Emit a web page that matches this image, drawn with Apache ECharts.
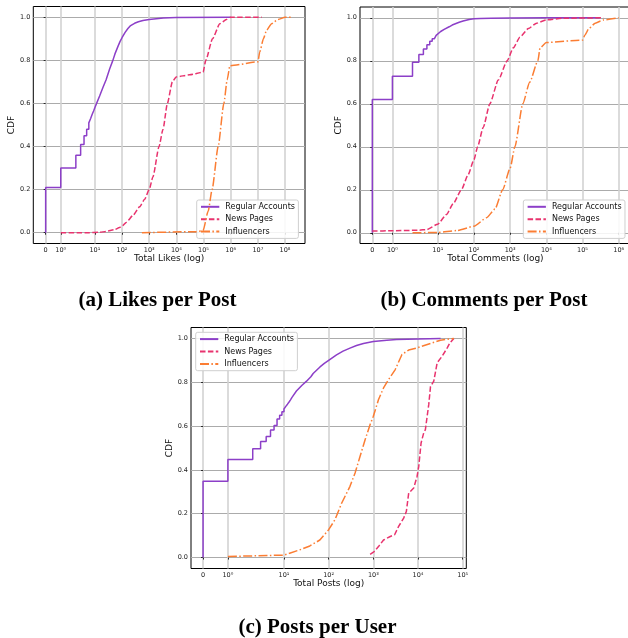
<!DOCTYPE html>
<html><head><meta charset="utf-8">
<script src="https://cdn.jsdelivr.net/npm/echarts@6/dist/echarts.min.js"></script>
<style>html,body{margin:0;padding:0;background:#fff}#c{width:628px;height:638px}</style>
</head><body><div id="c"></div>
<script>
// ---------- data ----------
const seriesNames = ['Regular Accounts', 'News Pages', 'Influencers'];

// (a) Likes per Post
const likesRegularX = [0,0,1,1,2,2,3,3,4,4,5,5,6,6,7,7,8,8,9,9,10,12,15,20,26,35,46,55,71,85,100,130,165,200,290,400,590,1000,3300,10000,1000000];
const likesRegularY = [0,0.21,0.21,0.30,0.30,0.36,0.36,0.41,0.41,0.45,0.45,0.48,0.48,0.51,0.51,0.53,0.53,0.55,0.55,0.565,0.58,0.605,0.635,0.675,0.71,0.76,0.80,0.83,0.865,0.888,0.905,0.93,0.948,0.96,0.972,0.979,0.985,0.99,0.997,0.999,1.0];
const likesNewsX = [1,6,15,26,53,81,100,143,253,444,680,1000,1380,2300,3230,4670,7140,9770,31000,96600,121000,214000,398000,700000,1000000,14000000];
const likesNewsY = [0,0,0.002,0.006,0.014,0.024,0.031,0.048,0.08,0.12,0.155,0.2,0.26,0.4,0.48,0.6,0.7,0.723,0.733,0.745,0.8,0.9,0.97,0.99,1.0,1.0];
const likesInflX = [540,54800,96600,148000,207000,346000,560000,743000,933000,10000000,11800000,16000000,21000000,32000000,56000000,100000000,190000000];
const likesInflY = [0,0.005,0.01,0.1,0.2,0.4,0.6,0.71,0.775,0.793,0.84,0.9,0.94,0.97,0.99,1.0,1.0];

// (b) Comments per Post
const commRegularX = [0,0,1,1,2,2,3,3,4,4,5,5,6,6,7,7,8,8,9,9,10,12,15,20.6,25,39,50,73.6,100,150,300,1000,10000,300000];
const commRegularY = [0,0.62,0.62,0.728,0.728,0.793,0.793,0.829,0.829,0.855,0.855,0.875,0.875,0.891,0.891,0.902,0.902,0.91,0.91,0.918,0.927,0.936,0.946,0.958,0.966,0.979,0.985,0.992,0.995,0.997,0.998,0.999,1.0,1.0];
const commNewsX = [0,1,3,5,10,17.4,26.6,45,69,100,126,180,275,470,830,1220,1870,3200,5400,10000,29500,380000];
const commNewsY = [0.008,0.009,0.012,0.015,0.04,0.085,0.135,0.2,0.27,0.34,0.4,0.49,0.6,0.71,0.8,0.86,0.91,0.95,0.975,0.99,0.998,1.0];
const commInflX = [2,10,33,100,223,380,620,1000,1350,2240,3460,5850,6700,10000,100000,117000,150000,224000,380000,1000000];
const commInflY = [0,0.001,0.01,0.03,0.07,0.11,0.2,0.3,0.4,0.6,0.7,0.8,0.86,0.885,0.896,0.92,0.95,0.975,0.99,1.0];

// (c) Posts per User
const postsRegularX = [0,0,1,1,2,2,3,3,4,4,5,5,6,6,7,7,8,8,9,9,10,10,11,11,12,12,13,13,14,14,15,19,25,32,40,45,64,80,100,150,210,300,420,600,1000,2000,3300,10000,32000];
const postsRegularY = [0,0.348,0.348,0.447,0.447,0.497,0.497,0.53,0.53,0.553,0.553,0.582,0.582,0.603,0.603,0.632,0.632,0.65,0.65,0.665,0.665,0.678,0.678,0.69,0.69,0.70,0.70,0.71,0.71,0.72,0.73,0.76,0.785,0.805,0.825,0.84,0.87,0.886,0.9,0.925,0.942,0.956,0.968,0.977,0.986,0.992,0.995,0.998,1.0];
const postsNewsX = [847,1042,1304,1690,2390,2990,3680,4770,5470,6180,8000,9510,10370,11700,13400,14600,17400,19000,22500,26800,34700,45000,51600,63500];
const postsNewsY = [0.015,0.027,0.05,0.08,0.096,0.104,0.142,0.18,0.21,0.294,0.317,0.37,0.416,0.523,0.569,0.584,0.7,0.78,0.805,0.889,0.919,0.957,0.98,1.0];
const postsInflX = [1,10,13.4,22.5,37.9,63.5,100,138,195,300,390,505,654,847,1000,1300,1690,2190,3090,4370,6180,9500,19000,31800,63500];
const postsInflY = [0.005,0.011,0.02,0.035,0.053,0.08,0.127,0.172,0.248,0.325,0.386,0.462,0.538,0.607,0.645,0.72,0.774,0.812,0.858,0.927,0.947,0.957,0.977,0.992,1.0];

// ticks
const likesTicks = [0,1,10,100,1e3,1e4,1e5,1e6,1e7,1e8];
const likesTickLabels = ['0','10\u2070','10\u00b9','10\u00b2','10\u00b3','10\u2074','10\u2075','10\u2076','10\u2077','10\u2078'];
const commTicks = [0,1,10,100,1e3,1e4,1e5,1e6];
const commTickLabels = ['0','10\u2070','10\u00b9','10\u00b2','10\u00b3','10\u2074','10\u2075','10\u2076'];
const postsTicks = [0,1,10,100,1e3,1e4,1e5];
const postsTickLabels = ['0','10\u2070','10\u00b9','10\u00b2','10\u00b3','10\u2074','10\u2075'];
const cdfTicks = [0,0.2,0.4,0.6,0.8,1.0];
const cdfTickLabels = ['0.0','0.2','0.4','0.6','0.8','1.0'];

const xTitles = ['Total Likes (log)', 'Total Comments (log)', 'Total Posts (log)'];
const captions = ['(a) Likes per Post', '(b) Comments per Post', '(c) Posts per User'];

// ---------- symlog transform (linthresh 2, linscale 1) ----------
const LT = 2, LS = 1 / (1 - 1 / 10);
function symlog(x) { return x <= LT ? x * LS : LT * (LS + Math.log10(x / LT)); }
function pts(xs, ys) { return xs.map((x, i) => [symlog(x), ys[i]]); }

const colors = ['#8c3fc8', '#e8336e', '#fb7d33'];
const dashes = ['solid', [5.5, 2.4], [9, 2.4, 1.5, 2.4]];
const FONT = 'DejaVu Sans';

const grids = [
  { left: 33.3, top: 6.5, width: 271.7, height: 237 },
  { left: 360, top: 7, width: 271, height: 236.5 },
  { left: 191, top: 327.5, width: 275.3, height: 241 }
];
const xRanges = [[-0.91, 19.09], [-0.68, 14.30], [-0.54, 11.78]];
const tickSets = [[likesTicks, likesTickLabels], [commTicks, commTickLabels], [postsTicks, postsTickLabels]];

function xAxis(i) {
  const ticks = tickSets[i][0].map(symlog), labels = tickSets[i][1];
  return {
    type: 'value', gridIndex: i, min: xRanges[i][0], max: xRanges[i][1],
    name: xTitles[i], nameLocation: 'middle', nameGap: 9,
    nameTextStyle: { fontSize: 9, fontFamily: FONT, color: '#111' },
    axisLine: { show: false },
    axisTick: { show: true, customValues: ticks, length: 2, lineStyle: { color: '#000', width: 0.8 } },
    axisLabel: { show: true, customValues: ticks, margin: 3, fontSize: 6.5, fontFamily: FONT, color: '#222',
      formatter: v => { const k = ticks.findIndex(t => Math.abs(t - v) < 1e-6); return k >= 0 ? labels[k] : ''; } },
    splitLine: { show: true, lineStyle: { color: '#d2d2d2', width: 1.6 } }
  };
}
function yAxis(i) {
  return {
    type: 'value', gridIndex: i, min: -0.05, max: 1.05,
    name: 'CDF', nameLocation: 'middle', nameGap: 10.5,
    nameTextStyle: { fontSize: 9, fontFamily: FONT, color: '#111' },
    axisLine: { show: false },
    axisTick: { show: true, customValues: cdfTicks, length: 2, lineStyle: { color: '#000', width: 0.8 } },
    axisLabel: { show: true, customValues: cdfTicks, margin: 3, fontSize: 6.5, fontFamily: FONT, color: '#222',
      formatter: v => { const k = cdfTicks.findIndex(t => Math.abs(t - v) < 1e-6); return k >= 0 ? cdfTickLabels[k] : ''; } },
    splitLine: { show: true, lineStyle: { color: '#ababab', width: 1 } }
  };
}

const panelData = [
  [pts(likesRegularX, likesRegularY), pts(likesNewsX, likesNewsY), pts(likesInflX, likesInflY)],
  [pts(commRegularX, commRegularY), pts(commNewsX, commNewsY), pts(commInflX, commInflY)],
  [pts(postsRegularX, postsRegularY), pts(postsNewsX, postsNewsY), pts(postsInflX, postsInflY)]
];

const series = [];
panelData.forEach((arr, g) => arr.forEach((d, s) => series.push({
  type: 'line', name: seriesNames[s], xAxisIndex: g, yAxisIndex: g, data: d,
  symbol: 'none', showSymbol: false, clip: true, z: 2 + s,
  smooth: (s > 0 && g < 2) ? 0.2 : false, smoothMonotone: 'x',
  lineStyle: { color: colors[s], width: 1.5, type: dashes[s] },
  itemStyle: { color: colors[s] }, emphasis: { disabled: true }
})));

const legendPos = [{ left: 196.7, top: 200 }, { left: 523.3, top: 200 }, { left: 195.7, top: 332.3 }];
const legends = legendPos.map(p => ({
  left: p.left, top: p.top, orient: 'vertical', data: seriesNames,
  itemWidth: 18.3, itemHeight: 8, itemGap: 4.4, padding: [2.8, 3.4, 2.8, 3.3],
  backgroundColor: 'rgba(255,255,255,0.85)', borderColor: '#cfcfcf', borderWidth: 1, borderRadius: 2,
  selectedMode: false,
  itemStyle: { opacity: 0 },
  textStyle: { fontSize: 8, fontFamily: FONT, color: '#111', padding: [0, 0, 0, 1] }
}));

const captionPos = [[157.5, 300.7], [484, 300.7], [317.5, 628]];
const graphic = captions.map((t, i) => ({
  type: 'text', x: captionPos[i][0], y: captionPos[i][1],
  style: { text: t, fill: '#000', font: 'bold 21px "Liberation Serif"', textAlign: 'center', textVerticalAlign: 'middle' }
}));

const chart = echarts.init(document.getElementById('c'), null, { renderer: 'canvas' });
chart.setOption({
  animation: false,
  backgroundColor: '#fff',
  grid: grids.map(g => Object.assign({ show: true, borderColor: '#000', borderWidth: 1, backgroundColor: 'transparent', containLabel: false, outerBoundsMode: 'none' }, g)),
  xAxis: [0, 1, 2].map(xAxis),
  yAxis: [0, 1, 2].map(yAxis),
  legend: legends,
  series: series,
  graphic: graphic
});
</script></body></html>
